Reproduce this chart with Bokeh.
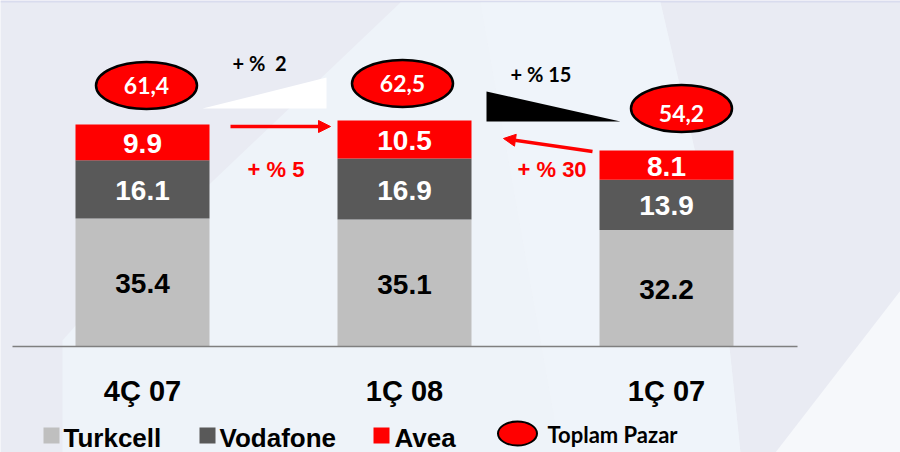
from bokeh.plotting import figure
from bokeh.models import Range1d, Arrow, NormalHead, ColumnDataSource
from bokeh.core.properties import value
from bokeh.embed import file_html
from bokeh.resources import INLINE

# ---------------- data ----------------
categories = ["4Ç 07", "1Ç 08", "1Ç 07"]
series = ["Turkcell", "Vodafone", "Avea"]
turkcell = [35.4, 35.1, 32.2]
vodafone = [16.1, 16.9, 13.9]
avea = [9.9, 10.5, 8.1]
toplam_pazar_labels = ["61,4", "62,5", "54,2"]
total_growth_labels = ["+ % \u00a02", "+ % 15"]
avea_growth_labels = ["+ % 5", "+ % 30"]

# ---------------- styles / layout ----------------
W, H = 900, 452
K = 3.616            # pixels per unit on the value axis
STEP = 262.0         # pixels between category centres
C0 = 142.0           # pixel x of first category centre
BASE = 346.0         # pixel y (from top) of the zero line
colors = ["#bfbfbf", "#595959", "#ff0000"]
label_colors = ["#000000", "#ffffff", "#ffffff"]
BG = "#e9ebf3"
ARIAL = value("Liberation Sans")
CAL = value("Lato")

def X(rx):  # pixel -> data x
    return (rx - C0) / STEP

def Y(ry):  # pixel -> data y
    return (BASE - ry) / K

p = figure(width=W, height=H, x_range=Range1d(-C0 / STEP, (W - C0) / STEP),
           y_range=Range1d(-(H - BASE) / K, BASE / K),
           x_axis_type=None, y_axis_type=None, toolbar_location=None,
           output_backend="svg", min_border=0)
p.outline_line_color = None
p.background_fill_color = BG
p.border_fill_color = BG

# decorative background shapes
p.patch([X(v) for v in (0, 900, 900, 0)], [Y(v) for v in (0, 0, 2, 2)],
        fill_color="#d9dcee", line_color=None)
p.patch([X(v) for v in (62, 62, 150, 400, 660, 720, 740)],
        [Y(v) for v in (452, 340, 240, 2, 2, 260, 452)],
        fill_color="#eef3f9", line_color=None)
p.patch([X(v) for v in (480, 620, 660, 720, 740, 560)],
        [Y(v) for v in (2, 2, 2, 260, 452, 452)],
        fill_color="#f0f5fa", line_color=None, fill_alpha=0.6)
p.patch([X(v) for v in (775, 900, 900)], [Y(v) for v in (452, 290, 452)],
        fill_color="#f6f8fb", line_color=None)

# ---------------- bars ----------------
xs = list(range(len(categories)))
src = ColumnDataSource(dict(x=xs, Turkcell=turkcell, Vodafone=vodafone, Avea=avea))
p.vbar_stack(series, x="x", width=134 / STEP, color=colors, line_width=0, source=src)

# baseline
p.segment(x0=[X(12)], y0=[0], x1=[X(797)], y1=[0], line_color="#7f7f7f", line_width=1.5)

# segment labels
vals = [turkcell, vodafone, avea]
bottom = [0.0] * len(xs)
for vs, tc in zip(vals, label_colors):
    mids = [b + v / 2 for b, v in zip(bottom, vs)]
    p.text(x=xs, y=mids, text=[f"{v:.1f}" for v in vs], text_color=tc,
           text_font=ARIAL, text_font_style="bold", text_font_size="28px",
           text_align="center", text_baseline="middle", y_offset=1)
    bottom = [b + v for b, v in zip(bottom, vs)]
totals = bottom

# category labels
p.text(x=xs, y=[Y(389)] * 3, text=categories, text_color="#000000",
       text_font=ARIAL, text_font_style="bold", text_font_size="29px",
       text_align="center", text_baseline="middle", y_offset=1)

# total market ellipses
edx = [4, -2, 15]
edy = [39, 37, 42]
ex = [x + d / STEP for x, d in zip(xs, edx)]
ey = [t + d / K for t, d in zip(totals, edy)]
p.ellipse(x=ex, y=ey, width=101, height=47, width_units="screen", height_units="screen",
          fill_color="#ff0000", line_color="#000000", line_width=2.5)
p.text(x=ex, y=ey, text=toplam_pazar_labels, text_color="#ffffff", text_font=CAL,
       text_font_style="bold", text_font_size="23px", text_align="center",
       text_baseline="middle", y_offset=[0, 0, 5])

# growth wedges
p.patch([X(202), X(326), X(326)], [Y(108), Y(108), Y(77)], fill_color="#ffffff", line_color=None)
p.patch([X(486), X(486), X(620)], [Y(91), Y(121), Y(121)], fill_color="#000000", line_color=None)
p.text(x=[X(232), X(510)], y=[Y(62), Y(73)], text=total_growth_labels, text_color="#000000",
       text_font=CAL, text_font_style="bold", text_font_size="20px",
       text_align="left", text_baseline="middle")

# Avea growth arrows
for (x0, y0, x1, y1) in [(230, 126, 330, 126), (592, 151, 503, 138)]:
    p.add_layout(Arrow(end=NormalHead(size=12, fill_color="#ff0000", line_color="#ff0000", line_width=1),
                       x_start=X(x0), y_start=Y(y0), x_end=X(x1), y_end=Y(y1),
                       line_color="#ff0000", line_width=3.5))
p.text(x=[X(247), X(517)], y=[Y(168), Y(168)], text=avea_growth_labels, text_color="#ff0000",
       text_font=ARIAL, text_font_style="bold", text_font_size="22px",
       text_align="left", text_baseline="middle", y_offset=1)

# ---------------- legend (drawn) ----------------
sw_x = [X(51), X(207), X(381)]
txt_x = [X(63), X(219), X(394)]
p.rect(x=sw_x, y=[Y(435)] * 3, width=16, height=16, width_units="screen",
       height_units="screen", fill_color=colors, line_color=None)
p.text(x=txt_x, y=[Y(436)] * 3, text=series, text_color="#000000", text_font=ARIAL,
       text_font_style="bold", text_font_size="26px", text_align="left",
       text_baseline="middle", y_offset=1)
p.ellipse(x=[X(517)], y=[Y(433)], width=39, height=24, width_units="screen",
          height_units="screen", fill_color="#ff0000", line_color="#000000", line_width=2)
p.text(x=[X(547)], y=[Y(434)], text=["Toplam Pazar"], text_color="#000000", text_font=CAL,
       text_font_style="bold", text_font_size="22px", text_align="left",
       text_baseline="middle")

open("out.html", "w").write(file_html(p, INLINE))
